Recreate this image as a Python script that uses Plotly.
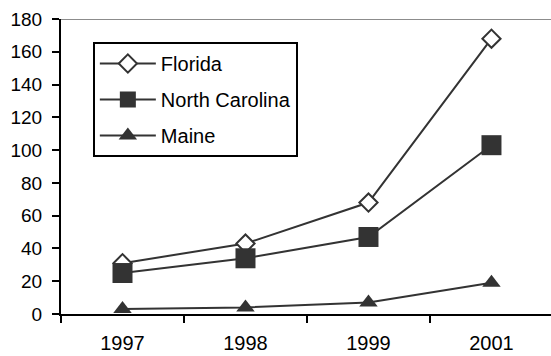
import plotly.graph_objects as go

# Annual counts by state
years = ["1997", "1998", "1999", "2001"]
florida = [31, 43, 68, 168]
north_carolina = [25, 34, 47, 103]
maine = [3, 4, 7, 19]

ink = "#333333"
font_family = "Liberation Sans, Arial, sans-serif"

fig = go.Figure()

series = [
    ("Florida", florida, dict(symbol="diamond", size=14, color="white",
                              line=dict(color=ink, width=2))),
    ("North Carolina", north_carolina, dict(symbol="square", size=20, color=ink,
                                            line=dict(color=ink, width=0))),
    ("Maine", maine, dict(symbol="triangle-up", size=16, color=ink,
                          line=dict(color=ink, width=0))),
]

for i, (name, vals, marker) in enumerate(series):
    fig.add_trace(go.Scatter(
        x=years, y=vals, name=name, mode="lines+markers",
        line=dict(color=ink, width=2), marker=marker,
        legendgroup=f"g{i}", cliponaxis=False,
    ))

fig.update_layout(
    width=551, height=356,
    margin=dict(l=61, r=0, t=19, b=42),
    paper_bgcolor="white", plot_bgcolor="white",
    font=dict(family=font_family, size=19, color="black"),
    showlegend=True,
    legend=dict(
        x=0.065, y=0.922, xanchor="left", yanchor="top",
        bordercolor="black", borderwidth=2, bgcolor="white",
        traceorder="grouped", tracegroupgap=7,
        font=dict(family=font_family, size=20, color="black"), itemwidth=56,
    ),
    xaxis=dict(
        type="category", range=[-0.5, 3.484],
        showline=True, linecolor="black", linewidth=2,
        ticks="outside", tickson="boundaries", ticklen=7, tickwidth=2, tickcolor="black",
        tickfont=dict(size=20), ticklabelstandoff=10,
        showgrid=False, zeroline=False, layer="below traces",
    ),
    yaxis=dict(
        range=[0, 180], dtick=20,
        showline=True, linecolor="black", linewidth=2,
        ticks="outside", ticklen=7, tickwidth=2, tickcolor="black",
        tickfont=dict(size=19), ticklabelstandoff=6,
        showgrid=False, zeroline=False,
    ),
    shapes=[dict(type="line", xref="paper", yref="y", x0=0, x1=1, y0=180, y1=180,
                 line=dict(color="#8c8c8c", width=2))],
)

fig.write_html("out.html")
